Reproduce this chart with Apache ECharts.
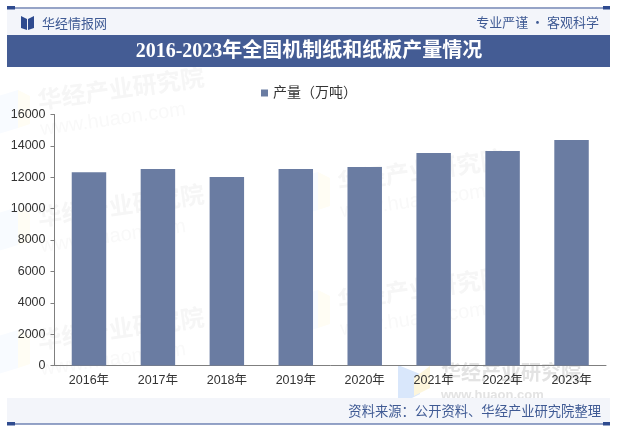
<!DOCTYPE html>
<html>
<head>
<meta charset="utf-8">
<style>html,body{margin:0;padding:0;background:#fff}#box1{width:618px;height:432px}</style>
<script src="https://cdn.jsdelivr.net/npm/echarts@6/dist/echarts.min.js"></script>
</head>
<body>
<div id="box1"></div>
<script>
var categories = ['2016年', '2017年', '2018年', '2019年', '2020年', '2021年', '2022年', '2023年'];
var output = [12320, 12530, 12020, 12530, 12650, 13540, 13670, 14370];
var seriesName = '产量（万吨）';
var yTicks = [0, 2000, 4000, 6000, 8000, 10000, 12000, 14000, 16000];

var chart = echarts.init(document.getElementById('box1'), null, { renderer: 'canvas' });
var cjk = '"Liberation Sans","Noto Sans CJK SC",sans-serif';

// 水印
function mark(x, y) {
  return [
    { type: 'text', z: -1, x: x, y: y, rotation: 0.14, style: { text: '华经产业研究院', fill: '#f6f6f6', font: 'bold 24px "Noto Sans CJK SC"' } },
    { type: 'text', z: -1, x: x + 3, y: y + 32, rotation: 0.14, style: { text: 'www.huaon.com', fill: '#f9f9f9', font: '20px "Liberation Sans"' } },
    { type: 'polygon', z: -1, shape: { points: [[x - 38, y + 8], [x - 18, y + 2], [x - 18, y + 40], [x - 38, y + 46]] }, style: { fill: '#f8fbff' } },
    { type: 'polygon', z: -1, shape: { points: [[x - 18, y + 2], [x - 6, y + 8], [x - 6, y + 36], [x - 18, y + 40]] }, style: { fill: '#fffdf4' } }
  ];
}

var graphics = [].concat(mark(36, 88), mark(36, 205), mark(36, 328), mark(336, 170), mark(336, 288));
graphics = graphics.concat([
  // 页眉
  { type: 'rect', z: 0, shape: { x: 7, y: 9, width: 603, height: 26 }, style: { fill: '#f3f5fa' } },
  { type: 'rect', z: 0, shape: { x: 7, y: 35, width: 603, height: 32 }, style: { fill: '#445c94' } },
  { type: 'rect', z: 1, shape: { x: 7, y: 7.5, width: 603, height: 1 }, style: { fill: '#2f4b8f' } },
  { type: 'rect', z: 1, shape: { x: 7, y: 6, width: 8, height: 3.5 }, style: { fill: '#2f4b8f' } },
  { type: 'rect', z: 1, shape: { x: 603, y: 6, width: 7, height: 3.5 }, style: { fill: '#2f4b8f' } },
  { type: 'polygon', z: 1, shape: { points: [[21, 16], [27, 19], [27, 30], [21, 28]] }, style: { fill: '#2f4b8f' } },
  { type: 'polygon', z: 1, shape: { points: [[34, 16], [28, 19], [28, 30], [34, 28]] }, style: { fill: '#2f4b8f' } },
  { type: 'text', z: 1, x: 42, y: 23, style: { text: '华经情报网', fill: '#3f5a94', font: '13px "Noto Sans CJK SC"', textVerticalAlign: 'middle' } },
  { type: 'text', z: 1, x: 599, y: 22, style: { text: '专业严谨 • 客观科学', fill: '#3f5a94', font: '13px "Noto Sans CJK SC"', textAlign: 'right', textVerticalAlign: 'middle' } },
  { type: 'text', z: 1, x: 309, y: 52, style: { text: '2016-2023年全国机制纸和纸板产量情况', fill: '#fff', font: 'bold 20px "Liberation Serif","Noto Sans CJK SC"', textAlign: 'center', textVerticalAlign: 'middle' } },
  // 页脚
  { type: 'polygon', z: -1, shape: { points: [[398, 365], [420, 374], [420, 394], [398, 405]] }, style: { fill: '#d9e7fb' } },
  { type: 'polygon', z: -1, shape: { points: [[414, 378], [430, 366], [430, 388], [414, 396]] }, style: { fill: '#fdf6dc' } },
  { type: 'text', z: -1, x: 441, y: 362, style: { text: '华经产业研究院', fill: '#e3e3e3', font: 'bold 20px "Noto Sans CJK SC"' } },
  { type: 'text', z: -1, x: 441, y: 389, style: { text: 'www.huaon.com', fill: '#e3e3e3', font: 'bold 13px "Liberation Sans"' } },
  { type: 'rect', z: 0, shape: { x: 7, y: 398, width: 603, height: 26 }, style: { fill: '#f3f5fa' } },
  { type: 'rect', z: 1, shape: { x: 7, y: 423.5, width: 603, height: 1 }, style: { fill: '#2f4b8f' } },
  { type: 'rect', z: 1, shape: { x: 7, y: 422, width: 8, height: 3.5 }, style: { fill: '#2f4b8f' } },
  { type: 'rect', z: 1, shape: { x: 603, y: 422, width: 7, height: 3.5 }, style: { fill: '#2f4b8f' } },
  { type: 'text', z: 1, x: 601, y: 411, style: { text: '资料来源：公开资料、华经产业研究院整理', fill: '#3f5a94', font: '13.3px "Noto Sans CJK SC"', textAlign: 'right', textVerticalAlign: 'middle' } }
]);

var option = {
  animation: false,
  backgroundColor: '#fff',
  legend: {
    data: [seriesName],
    top: 81,
    left: 'center',
    itemWidth: 7,
    itemHeight: 7,
    itemGap: 3,
    icon: 'rect',
    textStyle: { color: '#333', fontSize: 14, fontFamily: cjk }
  },
  grid: { left: 54.5, right: 12, top: 114.5, bottom: 66.5 },
  xAxis: {
    type: 'category',
    data: categories,
    axisLine: { lineStyle: { color: '#7f7f7f' } },
    axisTick: { alignWithLabel: false, length: 5, lineStyle: { color: '#7f7f7f' } },
    axisLabel: { color: '#333', fontSize: 12.5, fontFamily: cjk, margin: 9, interval: 0 }
  },
  yAxis: {
    type: 'value',
    min: yTicks[0],
    max: yTicks[yTicks.length - 1],
    interval: yTicks[1] - yTicks[0],
    splitLine: { show: false },
    axisLine: { show: true, lineStyle: { color: '#7f7f7f' } },
    axisTick: { show: true, length: 4, lineStyle: { color: '#7f7f7f' } },
    axisLabel: {
      color: '#333', fontSize: 12.5, fontFamily: cjk, margin: 9,
      formatter: function(value) {
        return String(value);
      }
    }
  },
  series: [{
    name: seriesName,
    type: 'bar',
    barWidth: '50%',
    itemStyle: { color: '#6a7ca2' },
    data: output
  }],
  graphic: graphics
};
chart.setOption(option);
</script>
</body>
</html>
